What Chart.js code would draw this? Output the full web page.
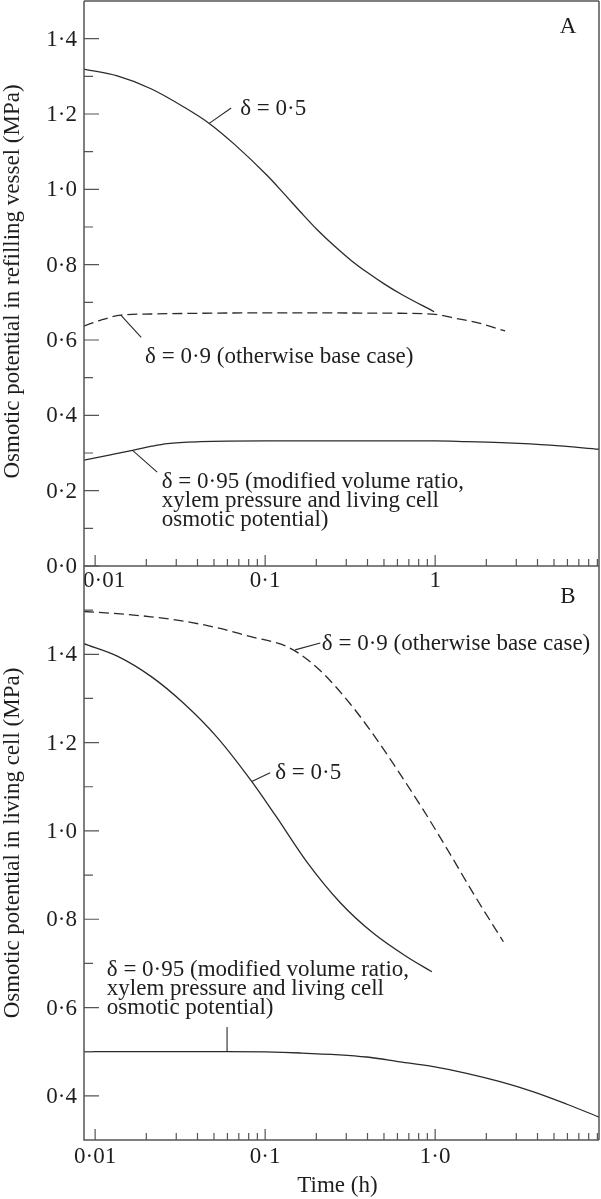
<!DOCTYPE html>
<html>
<head>
<meta charset="utf-8">
<script src="https://cdn.jsdelivr.net/npm/chart.js@4.4.1/dist/chart.umd.min.js"></script>
<style>
  html, body { margin: 0; padding: 0; background: #fff; }
  #wrap { position: relative; width: 601px; height: 1199px; }
  canvas { position: absolute; left: 0; }
  #chartA { top: 0; }
  #chartB { top: 546px; }
</style>
</head>
<body>
<div id="wrap">
  <canvas id="chartA" width="601" height="600"></canvas>
  <canvas id="chartB" width="601" height="653"></canvas>
</div>
<script>
// --- data (time in h, osmotic potential in MPa) ---

// Panel A: refilling vessel
const timeA05 = [0.0086, 0.0135, 0.0213, 0.0334, 0.0469, 0.0658, 0.1032, 0.1294, 0.1622, 0.2032, 0.2547, 0.3192, 0.3997, 0.501, 0.6281, 0.986];
const valueA05 = [1.319, 1.301, 1.267, 1.218, 1.175, 1.120, 1.036, 0.988, 0.939, 0.892, 0.850, 0.812, 0.779, 0.749, 0.722, 0.675];
const timeA09 = [0.0086, 0.0108, 0.0142, 0.0213, 0.1, 0.62, 1.0, 1.34, 1.84, 2.58];
const valueA09 = [0.637, 0.653, 0.666, 0.669, 0.672, 0.671, 0.668, 0.657, 0.644, 0.624];
const timeA095 = [0.0086, 0.0123, 0.0166, 0.0215, 0.0266, 0.0415, 0.1, 1.0, 1.53, 2.64, 4.75, 9.2];
const valueA095 = [0.281, 0.295, 0.307, 0.318, 0.325, 0.330, 0.332, 0.332, 0.330, 0.327, 0.321, 0.310];

// Panel B: living cell
const timeB05 = [0.0086, 0.0135, 0.0213, 0.0334, 0.0522, 0.0823, 0.115, 0.1758, 0.276, 0.4335, 0.681, 0.957];
const valueB05 = [1.424, 1.396, 1.350, 1.288, 1.212, 1.115, 1.035, 0.930, 0.838, 0.768, 0.715, 0.681];
const timeB09 = [0.0086, 0.0135, 0.0213, 0.0334, 0.0522, 0.0823, 0.1294, 0.161, 0.2202, 0.3162, 0.4335, 0.5951, 0.8536, 1.172, 1.68, 2.52];
const valueB09 = [1.497, 1.492, 1.485, 1.475, 1.460, 1.440, 1.420, 1.400, 1.356, 1.288, 1.218, 1.140, 1.047, 0.960, 0.858, 0.749];
const timeB095 = [0.0086, 0.0597, 0.161, 0.396, 0.622, 0.977, 1.53, 2.41, 3.79, 5.96, 9.2];
const valueB095 = [0.500, 0.500, 0.497, 0.488, 0.477, 0.466, 0.451, 0.432, 0.409, 0.381, 0.352];

// axis ticks
const xTicks = [0.01, 0.1, 1];
const xLabelsA = ['0·01', '0·1', '1'];
const xLabelsB = ['0·01', '0·1', '1·0'];
const yTicksA = [0.0, 0.2, 0.4, 0.6, 0.8, 1.0, 1.2, 1.4];
const yLabelsA = ['0·0', '0·2', '0·4', '0·6', '0·8', '1·0', '1·2', '1·4'];
const yMinorA = [0.1, 0.3, 0.5, 0.7, 0.9, 1.1, 1.3];
const yTicksB = [0.4, 0.6, 0.8, 1.0, 1.2, 1.4];
const yLabelsB = ['0·4', '0·6', '0·8', '1·0', '1·2', '1·4'];
const yMinorB = [0.5, 0.7, 0.9, 1.1, 1.3, 1.5];

const xMinor = [];
xTicks.forEach(d => { for (let k = 2; k <= 9; k++) xMinor.push(d * k); });

const FONT = '23px "Liberation Serif", "Times New Roman", serif';
const INK = '#2a2a2a';
const TEXT = '#1e1e1e';
const AXIS = '#555';

function pts(xs, ys) {
    return xs.map((x, i) => ({ x: x, y: ys[i] }));
}

function line(xs, ys, dashed) {
    return {
        data: pts(xs, ys),
        borderColor: INK,
        borderWidth: 1.3,
        borderDash: dashed ? [10, 5] : [],
        pointRadius: 0,
        cubicInterpolationMode: 'monotone',
        fill: false
    };
}

// draws frame, inward ticks, labels and annotations
const framePlugin = {
    id: 'frame',
    afterDraw(chart, args, o) {
        const { ctx, chartArea: a } = chart;
        const x = chart.scales.x, y = chart.scales.y;
        ctx.save();

        ctx.strokeStyle = AXIS;
        ctx.lineWidth = 1.5;
        ctx.beginPath();
        if (o.top) { ctx.moveTo(a.left, a.top); ctx.lineTo(a.right, a.top); }
        ctx.moveTo(a.left, a.top); ctx.lineTo(a.left, a.bottom); ctx.lineTo(a.right, a.bottom);
        ctx.moveTo(a.right, a.top); ctx.lineTo(a.right, a.bottom);
        ctx.stroke();

        ctx.lineWidth = 1.2;
        ctx.beginPath();
        o.yMajor.forEach(v => { const p = y.getPixelForValue(v); ctx.moveTo(a.left, p); ctx.lineTo(a.left + 15, p); });
        o.yMinor.forEach(v => { const p = y.getPixelForValue(v); ctx.moveTo(a.left, p); ctx.lineTo(a.left + 9, p); });
        xTicks.forEach(v => { const p = x.getPixelForValue(v); ctx.moveTo(p, a.bottom); ctx.lineTo(p, a.bottom - 11); });
        xMinor.forEach(v => { const p = x.getPixelForValue(v); ctx.moveTo(p, a.bottom); ctx.lineTo(p, a.bottom - 7); });
        ctx.stroke();

        ctx.fillStyle = TEXT;
        ctx.font = FONT;
        ctx.textBaseline = 'middle';
        ctx.textAlign = 'right';
        o.yMajor.forEach((v, i) => ctx.fillText(o.yLabels[i], a.left - 7, y.getPixelForValue(v) + 1));
        xTicks.forEach((v, i) => {
            let px = x.getPixelForValue(v);
            ctx.textAlign = 'center';
            if (i === 0 && o.firstLeft) { ctx.textAlign = 'left'; px = a.left - 1; }
            ctx.fillText(o.xLabels[i], px, a.bottom + o.xLabelGap);
        });

        // y title
        ctx.save();
        ctx.translate(13, (a.top + a.bottom) / 2 + o.titleShift);
        ctx.rotate(-Math.PI / 2);
        ctx.textAlign = 'center';
        ctx.fillText(o.yTitle, 0, 0);
        ctx.restore();

        if (o.xTitle) {
            ctx.textAlign = 'center';
            ctx.fillText(o.xTitle, (a.left + a.right) / 2 - 4, a.bottom + 46);
        }

        // panel letter
        ctx.textAlign = 'center';
        ctx.fillText(o.letter, a.right - 31, a.top + o.letterDy);

        // curve labels with leader lines
        ctx.strokeStyle = INK;
        ctx.lineWidth = 1.1;
        ctx.textAlign = 'left';
        o.notes.forEach(n => {
            ctx.beginPath();
            ctx.moveTo(x.getPixelForValue(n.lead[0][0]), y.getPixelForValue(n.lead[0][1]));
            ctx.lineTo(x.getPixelForValue(n.lead[1][0]), y.getPixelForValue(n.lead[1][1]));
            ctx.stroke();
            const tx = x.getPixelForValue(n.at[0]), ty = y.getPixelForValue(n.at[1]);
            n.lines.forEach((s, i) => ctx.fillText(s, tx, ty + i * 19));
        });
        ctx.restore();
    }
};

function makePanel(id, datasets, yMin, yMax, padding, frame) {
    return new Chart(document.getElementById(id), {
        type: 'line',
        data: { datasets: datasets },
        options: {
            responsive: false,
            animation: false,
            layout: { padding: padding },
            plugins: { legend: { display: false }, tooltip: { enabled: false }, frame: frame },
            scales: {
                x: { type: 'logarithmic', min: 0.0086, max: 9.2, display: false },
                y: { type: 'linear', min: yMin, max: yMax, display: false }
            }
        },
        plugins: [framePlugin]
    });
}

makePanel('chartA',
    [line(timeA05, valueA05, false), line(timeA09, valueA09, true), line(timeA095, valueA095, false)],
    0, 1.5,
    { left: 84, right: 2, top: 1, bottom: 34 },
    {
        top: true, yMajor: yTicksA, yLabels: yLabelsA, yMinor: yMinorA,
        xLabels: xLabelsA, xLabelGap: 15, firstLeft: true,
        yTitle: 'Osmotic potential in refilling vessel (MPa)', titleShift: -2,
        letter: 'A', letterDy: 26,
        notes: [
            { lead: [[0.0469, 1.175], [0.0631, 1.216]], at: [0.0713, 1.213], lines: ['δ = 0·5'] },
            { lead: [[0.01416, 0.666], [0.01866, 0.607]], at: [0.01967, 0.555], lines: ['δ = 0·9 (otherwise base case)'] },
            { lead: [[0.0166, 0.307], [0.02317, 0.249]], at: [0.02466, 0.223],
              lines: ['δ = 0·95 (modified volume ratio,', 'xylem pressure and living cell', 'osmotic potential)'] }
        ]
    });

makePanel('chartB',
    [line(timeB05, valueB05, false), line(timeB09, valueB09, true), line(timeB095, valueB095, false)],
    0.3, 1.6,
    { left: 84, right: 2, top: 20, bottom: 59 },
    {
        top: false, yMajor: yTicksB, yLabels: yLabelsB, yMinor: yMinorB,
        xLabels: xLabelsB, xLabelGap: 17, firstLeft: false,
        yTitle: 'Osmotic potential in living cell (MPa)', titleShift: -10,
        xTitle: 'Time (h)',
        letter: 'B', letterDy: 31,
        notes: [
            { lead: [[0.150, 1.410], [0.211, 1.4257]], at: [0.2156, 1.424], lines: ['δ = 0·9 (otherwise base case)'] },
            { lead: [[0.0835, 1.112], [0.107, 1.132]], at: [0.1146, 1.131], lines: ['δ = 0·5'] },
            { lead: [[0.0597, 0.556], [0.0597, 0.4995]], at: [0.01171, 0.685],
              lines: ['δ = 0·95 (modified volume ratio,', 'xylem pressure and living cell', 'osmotic potential)'] }
        ]
    });
</script>
</body>
</html>
